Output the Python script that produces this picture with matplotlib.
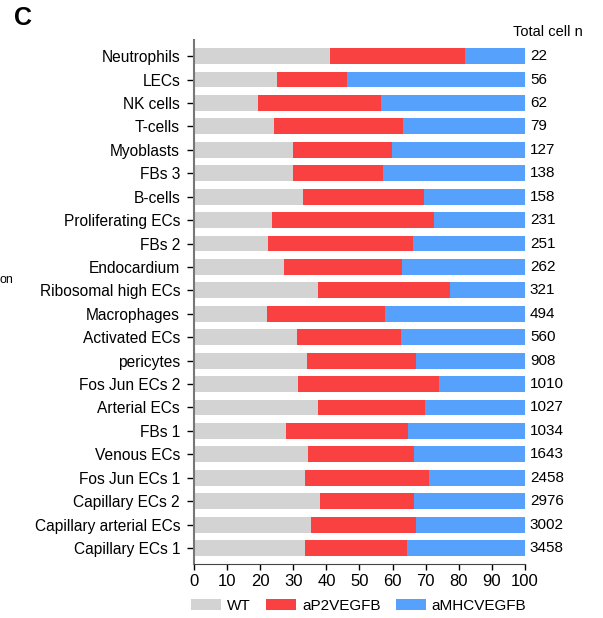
import numpy as np
import matplotlib.pyplot as plt

cell_types = ['Neutrophils', 'LECs', 'NK cells', 'T-cells', 'Myoblasts', 'FBs 3',
              'B-cells', 'Proliferating ECs', 'FBs 2', 'Endocardium',
              'Ribosomal high ECs', 'Macrophages', 'Activated ECs', 'pericytes',
              'Fos Jun ECs 2', 'Arterial ECs', 'FBs 1', 'Venous ECs',
              'Fos Jun ECs 1', 'Capillary ECs 2', 'Capillary arterial ECs',
              'Capillary ECs 1']
total_n = [22, 56, 62, 79, 127, 138, 158, 231, 251, 262, 321, 494, 560, 908,
           1010, 1027, 1034, 1643, 2458, 2976, 3002, 3458]
wt = [41.2, 25.1, 19.4, 24.2, 30.0, 30.0, 33.0, 23.6, 22.4, 27.2, 37.5, 22.1,
      31.2, 34.2, 31.5, 37.5, 27.9, 34.5, 33.6, 38.1, 35.4, 33.6]
ap2 = [40.8, 21.2, 37.2, 39.1, 29.9, 27.2, 36.6, 48.8, 43.9, 35.5, 40.0, 35.7,
       31.2, 33.0, 42.4, 32.4, 36.9, 32.0, 37.5, 28.4, 31.8, 30.9]
amhc = [100 - a - b for a, b in zip(wt, ap2)]

colors = ['#D3D3D3', '#F94141', '#55A1FB']
series = ['WT', 'aP2VEGFB', 'aMHCVEGFB']

plt.rcParams['font.family'] = ['Liberation Sans', 'DejaVu Sans']
fig = plt.figure(figsize=(6.03, 6.18), dpi=100)
ax = fig.add_axes([0.3217, 0.0874, 0.5489, 0.8476])

y = np.arange(len(cell_types))
left = np.zeros(len(cell_types))
for vals, c, lab in zip([wt, ap2, amhc], colors, series):
    ax.barh(y, vals, left=left, height=0.68, color=c, label=lab)
    left += np.array(vals)

ax.set_xlim(0, 100)
ax.set_ylim(21.68, -0.68)
ax.set_yticks(y)
ax.set_yticklabels(cell_types, fontsize=11.2)
ax.set_xticks(np.arange(0, 101, 10))
ax.tick_params(axis='x', labelsize=12, length=4, width=1)
ax.tick_params(axis='y', length=5, width=1, pad=5)
for s in ['top', 'right']:
    ax.spines[s].set_visible(False)
ax.spines['left'].set_color('#777777')
ax.spines['left'].set_linewidth(1.5)
ax.spines['bottom'].set_color('#444444')

for yi, n in zip(y, total_n):
    ax.text(101.5, yi, str(n), ha='left', va='center', fontsize=11,
            clip_on=False)

fig.text(548 / 603, 1 - 32 / 618, 'Total cell n', ha='center', va='center',
         fontsize=10.5)
fig.text(0.024, 1 - 18 / 618, 'C', ha='left', va='center', fontsize=18,
         fontweight='bold')
fig.text(0.0, 1 - 280 / 618, 'on', ha='left', va='center', fontsize=9)

fig.legend(loc='center', bbox_to_anchor=(0.595, 1 - 606 / 618), ncol=3,
           frameon=False, fontsize=11, handlelength=1.95, handleheight=0.7,
           columnspacing=1.0, handletextpad=0.4, borderpad=0)

plt.savefig('out.png', dpi=100)
